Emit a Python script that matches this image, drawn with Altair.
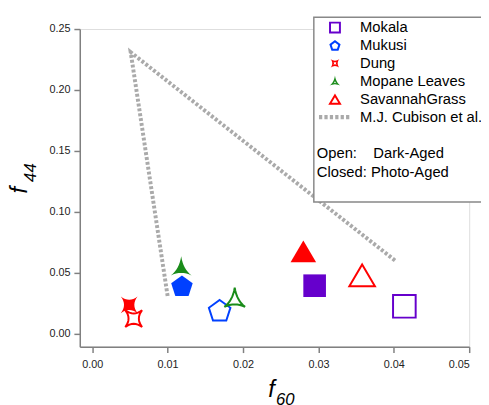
import altair as alt
import pandas as pd

# ---- data ----
categories = ["Mokala", "Mukusi", "Dung", "Mopane Leaves", "SavannahGrass"]
open_f60 = [0.0414, 0.0169, 0.0055, 0.0189, 0.0358]      # dark-aged
open_f44 = [0.0226, 0.0194, 0.0125, 0.0290, 0.0480]
closed_f60 = [0.0295, 0.0119, 0.0049, 0.0118, 0.0280]    # photo-aged
closed_f44 = [0.0395, 0.0395, 0.0238, 0.0548, 0.0677]

cubison_label = "M.J. Cubison et al."
cubison_f60 = [0.0100, 0.0051, 0.0402]
cubison_f44 = [0.031, 0.231, 0.060]

x_ticks = [0.0, 0.01, 0.02, 0.03, 0.04, 0.05]
y_ticks = [0.0, 0.05, 0.10, 0.15, 0.20, 0.25]
note_lines = ["Open:\u00a0\u00a0\u00a0\u00a0Dark-Aged", "Closed: Photo-Aged"]

# ---- marker styles (shape outlines in symbol units) ----
legend_items = categories + [cubison_label]
colors = ["#6600cc", "#0040ff", "#ff0000", "#1a8c1a", "#ff0000", "#aaaaaa"]


def quad(p0, c, p2, n=8):
    pts = []
    for i in range(1, n + 1):
        t = i / n
        x = (1 - t) ** 2 * p0[0] + 2 * (1 - t) * t * c[0] + t ** 2 * p2[0]
        y = (1 - t) ** 2 * p0[1] + 2 * (1 - t) * t * c[1] + t ** 2 * p2[1]
        pts.append((x, y))
    return pts


def curved(start, segs):
    pts = [start]
    p = start
    for c, p2 in segs:
        pts += quad(p, c, p2)
        p = p2
    return pts[:-1]


sq = [(-1.15, -1.15), (1.15, -1.15), (1.15, 1.15), (-1.15, 1.15)]
pent = [(0, -1.04), (1.094, -0.245), (0.676, 1.04), (-0.676, 1.04), (-1.094, -0.245)]
star = curved((-0.85, -0.85), [((0, -0.2), (0.85, -0.85)), ((0.2, 0), (0.85, 0.85)),
                               ((0, 0.2), (-0.85, 0.85)), ((-0.2, 0), (-0.85, -0.85))])
tri_arrow = curved((0, -1.1), [((0.2, 0.2), (1.05, 0.85)), ((0, 0.35), (-1.05, 0.85)),
                               ((-0.2, 0.2), (0, -1.1))])
tri = [(0, -1.1), (1.3, 1.1), (-1.3, 1.1)]


def poly(pts):
    return "M" + "L".join(f"{x:.3f},{y:.3f}" for x, y in pts) + "Z"


def ring(pts, k, cx=0.0, cy=0.0):
    inner = [(cx + k * (x - cx), cy + k * (y - cy)) for x, y in pts][::-1]
    return poly(pts) + poly(inner)


dash_symbol = "".join(
    f"M{-3.1 + i * 1.05:.2f},-0.42h0.63v0.84h-0.63Z" for i in range(6))

solid_paths = [poly(sq), poly(pent), poly(star), poly(tri_arrow), poly(tri), dash_symbol]
outline_paths = [ring(sq, 0.67), ring(pent, 0.58, 0, 0.11), ring(star, 0.35),
                 ring(tri_arrow, 0.25, 0, 0.25), ring(tri, 0.49, 0, 0.358), dash_symbol]

FONT = "Liberation Sans"

open_df = pd.DataFrame({"cat": categories, "f60": open_f60, "f44": open_f44})
closed_df = pd.DataFrame({"cat": categories, "f60": closed_f60, "f44": closed_f44})
line_df = pd.DataFrame({"f60": cubison_f60, "f44": cubison_f44,
                        "order": list(range(len(cubison_f60)))})
legend_df = pd.DataFrame({"cat": legend_items})

axis_common = dict(tickSize=6, tickColor="#808080", tickWidth=1.5,
                   domainColor="#808080", domainWidth=1.5, grid=False,
                   labelFont=FONT, labelFontSize=11, labelColor="#222222",
                   format=".2f")


def xenc():
    return alt.X("f60:Q", title=None,
                 scale=alt.Scale(domain=[-0.00165, 0.05], nice=False, zero=False),
                 axis=alt.Axis(values=x_ticks, labelPadding=6, **axis_common))


def yenc():
    return alt.Y("f44:Q", title=None,
                 scale=alt.Scale(domain=[-0.0105, 0.25], nice=False, zero=False),
                 axis=alt.Axis(values=y_ticks, labelPadding=4, **axis_common))


legend = alt.Legend(
    orient="none", legendX=241, legendY=-9, padding=0,
    title=note_lines, titleOrient="bottom", titleAnchor="start", titleAlign="left",
    titleFont=FONT, titleFontSize=15, titleFontWeight="normal", titleColor="black",
    titlePadding=21, titleLineHeight=19,
    labelFont=FONT, labelFontSize=15, labelColor="black", labelLimit=300,
    symbolSize=110, symbolStrokeWidth=0, symbolOffset=11, labelOffset=18,
    symbolOpacity=1, rowPadding=2.2,
)

color_scale = alt.Scale(domain=legend_items, range=colors)
solid_scale = alt.Scale(domain=legend_items, range=solid_paths)
outline_scale = alt.Scale(domain=legend_items, range=outline_paths)

line = alt.Chart(line_df).mark_line(
    color="#aaaaaa", strokeWidth=4, strokeDash=[3, 2], strokeCap="butt"
).encode(x=xenc(), y=yenc(), order="order:O")

open_pts = alt.Chart(open_df).mark_point(
    filled=False, strokeWidth=2, size=400, opacity=1
).encode(
    x=xenc(), y=yenc(),
    color=alt.Color("cat:N", scale=color_scale, legend=None),
    shape=alt.Shape("cat:N", scale=solid_scale, legend=None),
)

closed_pts = alt.Chart(closed_df).mark_point(
    filled=True, strokeWidth=0, size=400, opacity=1
).encode(
    x=xenc(), y=yenc(),
    color=alt.Color("cat:N", scale=color_scale, legend=None),
    shape=alt.Shape("cat:N", scale=solid_scale, legend=None),
)

# invisible layer that only carries the legend (open outlines)
legend_layer = alt.Chart(legend_df).mark_point(
    filled=True, strokeWidth=0, size=400, opacity=0
).encode(
    x=alt.value(0), y=alt.value(0),
    color=alt.Color("cat:N", scale=color_scale, legend=legend),
    shape=alt.Shape("cat:N", scale=outline_scale, legend=legend),
)

one = pd.DataFrame({"k": [0]})
box = alt.Chart(one).mark_rect(fill="white", stroke="#888888", strokeWidth=1.5).encode(
    x=alt.value(238), x2=alt.value(440), y=alt.value(-12), y2=alt.value(176)
)

xt_f = alt.Chart(one).mark_text(text="f", font=FONT, fontSize=24, fontStyle="italic",
                                align="center", baseline="middle", color="black").encode(
    x=alt.value(195), y=alt.value(367))
xt_s = alt.Chart(one).mark_text(text="60", font=FONT, fontSize=17, fontStyle="italic",
                                align="center", baseline="middle", color="black").encode(
    x=alt.value(209), y=alt.value(377))
yt_f = alt.Chart(one).mark_text(text="f", font=FONT, fontSize=24, fontStyle="italic",
                                angle=270, align="center", baseline="middle",
                                color="black").encode(
    x=alt.value(-61), y=alt.value(164))
yt_s = alt.Chart(one).mark_text(text="44", font=FONT, fontSize=17, fontStyle="italic",
                                angle=270, align="center", baseline="middle",
                                color="black").encode(
    x=alt.value(-50), y=alt.value(146))

chart = alt.layer(
    line, open_pts, closed_pts, box, legend_layer, xt_f, xt_s, yt_f, yt_s
).resolve_scale(shape="independent", color="independent").properties(
    width=396, height=323,
    padding={"left": 73, "top": 18, "right": 12, "bottom": 60},
    autosize=alt.AutoSizeParams(type="none"),
).configure_view(stroke=None).configure(background="white")

chart.save("out.html", embed_options={"renderer": "svg", "actions": False})
